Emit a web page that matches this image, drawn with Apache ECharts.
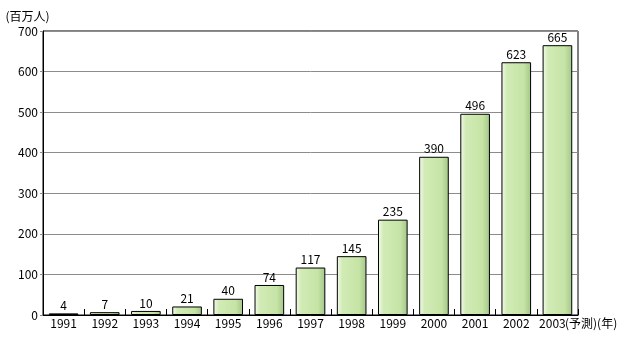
<!DOCTYPE html>
<html>
<head>
<meta charset="utf-8">
<script src="https://cdn.jsdelivr.net/npm/echarts@6/dist/echarts.min.js"></script>
<style>
html,body{margin:0;padding:0;background:#fff;}
#chart{width:633px;height:341px;}
</style>
</head>
<body>
<div id="chart"></div>
<script>
// Internet users worldwide (millions), 1991–2003 (2003 forecast)
const years = ['1991','1992','1993','1994','1995','1996','1997','1998','1999','2000','2001','2002','2003'];
const users = [4, 7, 10, 21, 40, 74, 117, 145, 235, 390, 496, 623, 665];
const yTicks = [0, 100, 200, 300, 400, 500, 600, 700];

const font = '"Noto Sans CJK JP", "DejaVu Sans", sans-serif';
const chart = echarts.init(document.getElementById('chart'), null, {renderer: 'canvas'});

const barFill = new echarts.graphic.LinearGradient(0, 0, 1, 0, [
  {offset: 0, color: '#f4faee'},
  {offset: 0.18, color: '#d2ebb6'},
  {offset: 0.75, color: '#c6e4a6'},
  {offset: 1, color: '#a3c689'}
]);

// the forecast year's label sits a little left to leave room for its suffix
const categoryData = years.map((y, i) =>
  i === years.length - 1 ? {value: y, textStyle: {padding: [0, 10, 0, 0]}} : y);

chart.setOption({
  animation: false,
  grid: {left: 43, right: 55, top: 31, bottom: 26, show: true, borderColor: '#000', borderWidth: 1},
  xAxis: {
    type: 'category',
    data: categoryData,
    axisLine: {lineStyle: {color: '#000', width: 1}},
    axisTick: {show: true, inside: true, length: 6, alignWithLabel: false, lineStyle: {color: '#000'}},
    axisLabel: {color: '#000', fontSize: 12, fontFamily: font, margin: 2}
  },
  yAxis: {
    type: 'value',
    min: yTicks[0],
    max: yTicks[yTicks.length - 1],
    interval: 100,
    name: '(百万人)',
    nameLocation: 'end',
    nameGap: 9,
    nameTextStyle: {color: '#000', fontSize: 12, fontFamily: font, align: 'center', padding: [0, 31, 0, 0]},
    axisLine: {show: true, lineStyle: {color: '#000', width: 1}},
    axisTick: {show: true, length: 3, lineStyle: {color: '#8c8c8c'}},
    axisLabel: {color: '#000', fontSize: 12, fontFamily: font, margin: 5},
    splitLine: {show: true, lineStyle: {color: '#8c8c8c', width: 1}}
  },
  series: [{
    type: 'bar',
    data: users,
    barWidth: '72%',
    itemStyle: {color: barFill, borderColor: '#000', borderWidth: 1},
    label: {show: true, position: 'top', distance: 2, color: '#000', fontSize: 12, fontFamily: font}
  }],
  graphic: [{
    type: 'text',
    left: 565,
    top: 317,
    style: {text: '(予測)(年)', fill: '#000', font: '12px ' + font}
  }]
});
</script>
</body>
</html>
